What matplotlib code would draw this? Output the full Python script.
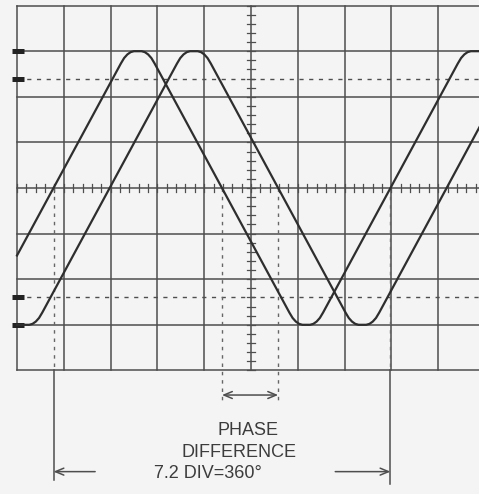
import matplotlib.pyplot as plt

# Graticule in divisions: 10 across, 8 high, centre at (5, 0)
grid_x = [0, 1, 2, 3, 4, 5, 6, 7, 8, 9, 10]
grid_y = [-4, -3, -2, -1, 0, 1, 2, 3, 4]
pct_levels = [2.4, -2.4]            # 10 % / 90 % dashed lines
level_marks = [3.0, 2.4, -2.4, -3.0]  # small bars left of the screen

# Leading waveform (divisions)
wave_a_x = [0.00, 0.78, 2.219, 2.289, 2.359, 2.429, 2.499,
            2.661, 2.731, 2.801, 2.871, 2.941, 4.38,
            5.819, 5.889, 5.959, 6.029, 6.099,
            6.261, 6.331, 6.401, 6.471, 6.541, 7.98,
            9.419, 9.489, 9.559, 9.629, 9.699, 10.0]
wave_a_y = [-1.48, 0.0, 2.73, 2.85, 2.93, 2.98, 3.0,
            3.0, 2.98, 2.93, 2.85, 2.73, 0.0,
            -2.73, -2.85, -2.93, -2.98, -3.0,
            -3.0, -2.98, -2.93, -2.85, -2.73, 0.0,
            2.73, 2.85, 2.93, 2.98, 3.0, 3.0]

# Lagging waveform
wave_b_x = [0.00, 0.261, 0.331, 0.401, 0.471, 0.541, 1.98,
            3.419, 3.489, 3.559, 3.629, 3.699,
            3.861, 3.931, 4.001, 4.071, 4.141, 5.58,
            7.019, 7.089, 7.159, 7.229, 7.299,
            7.461, 7.531, 7.601, 7.671, 7.741, 9.18, 10.0]
wave_b_y = [-3.0, -3.0, -2.98, -2.93, -2.85, -2.73, 0.0,
            2.73, 2.85, 2.93, 2.98, 3.0,
            3.0, 2.98, 2.93, 2.85, 2.73, 0.0,
            -2.73, -2.85, -2.93, -2.98, -3.0,
            -3.0, -2.98, -2.93, -2.85, -2.73, 0.0, 1.56]

# Zero crossings used for the measurement
period_start, period_end = 0.78, 7.98
phase_a, phase_b = 4.38, 5.58

label_phase = ["PHASE", "DIFFERENCE"]
label_period = "7.2 DIV=360°"

INK = "#2e2e2e"
GRID = "#4e4e4e"
TEXT = "#3c3c3c"


def draw_graticule(ax):
    """
    Grid lines, minor ticks on the centre lines, dashed 10/90 % lines
    and the level bars on the left edge
    """
    for gx in grid_x:
        ax.plot([gx, gx], [grid_y[0], grid_y[-1]], color=GRID, lw=1.1)
    for gy in grid_y:
        ax.plot([grid_x[0], grid_x[-1]], [gy, gy], color=GRID, lw=1.1)

    # minor ticks every 0.2 div on the centre cross
    for i in range(int(grid_x[-1] * 5) + 1):
        t = i / 5
        ax.plot([t, t], [-0.08, 0.08], color=GRID, lw=0.9)
    for i in range(int((grid_y[-1] - grid_y[0]) * 5) + 1):
        t = grid_y[0] + i / 5
        ax.plot([4.92, 5.08], [t, t], color=GRID, lw=0.9)

    for py in pct_levels:
        ax.plot([grid_x[0], grid_x[-1]], [py, py], color=GRID, lw=1.0,
                dashes=(3, 4))

    for ly in level_marks:
        ax.plot([-0.1, 0.14], [ly, ly], color="#222222", lw=3.6,
                solid_capstyle="butt")


def draw_measurement(ax):
    """
    Dashed verticals from the zero crossings, extension lines and arrows
    """
    dash_kw = dict(color="#666666", lw=1.0, dashes=(2.5, 3.5))
    ax.plot([period_start, period_start], [0, -4], **dash_kw)
    ax.plot([period_end, period_end], [0, -4], **dash_kw)
    ax.plot([phase_a, phase_a], [0, -4.72], **dash_kw)
    ax.plot([phase_b, phase_b], [0, -4.72], **dash_kw)

    # solid extension lines below the screen for the full period
    ax.plot([period_start, period_start], [-4, -6.4], color=GRID, lw=1.1)
    ax.plot([period_end, period_end], [-4, -6.5], color=GRID, lw=1.1)

    arrow_kw = dict(arrowstyle="->,head_length=0.6,head_width=0.25",
                    color=GRID, lw=1.1, shrinkA=0, shrinkB=0,
                    mutation_scale=10)
    ax.annotate("", xy=(phase_a, -4.54), xytext=(phase_b, -4.54),
                arrowprops=dict(arrow_kw, arrowstyle="<->,head_length=0.6,head_width=0.25"))
    ax.annotate("", xy=(period_start, -6.22), xytext=(1.67, -6.22),
                arrowprops=arrow_kw)
    ax.annotate("", xy=(period_end, -6.22), xytext=(6.8, -6.22),
                arrowprops=arrow_kw)

    font_kw = dict(color=TEXT, fontsize=13, family="Liberation Sans",
                   ha="center", va="center")
    ax.text(4.93, -5.31, label_phase[0], **font_kw)
    ax.text(4.74, -5.79, label_phase[1], **font_kw)
    ax.text(4.08, -6.25, label_period, **font_kw)


fig = plt.figure(figsize=(4.79, 4.94), dpi=100)
fig.patch.set_facecolor("#f4f4f4")
ax = fig.add_axes([0, 0, 1, 1])
ax.set_facecolor("#f4f4f4")
ax.set_xlim(-17 / 46.8, 462 / 46.8)
ax.set_ylim(-306 / 45.6, 188 / 45.6)
ax.axis("off")

draw_graticule(ax)
draw_measurement(ax)

ax.plot(wave_a_x, wave_a_y, color=INK, lw=1.6, solid_joinstyle="round")
ax.plot(wave_b_x, wave_b_y, color=INK, lw=1.6, solid_joinstyle="round")

fig.savefig("out.png", dpi=100, facecolor=fig.get_facecolor())
